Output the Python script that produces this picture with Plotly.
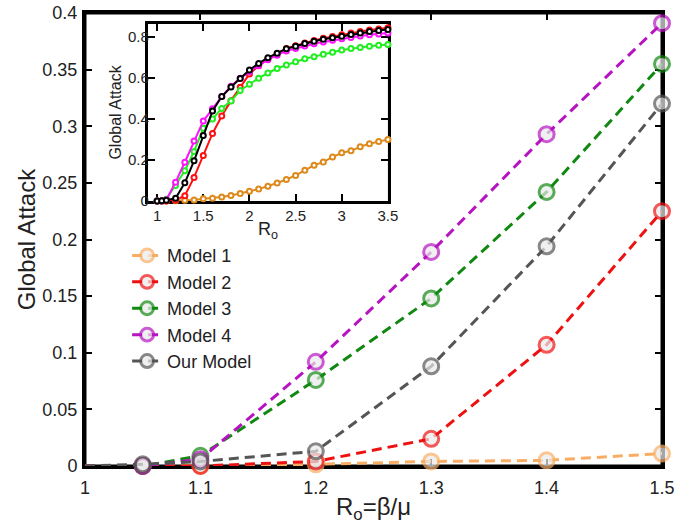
import plotly.graph_objects as go

# ---------------- Main chart data ----------------
r0_main = [1.0, 1.05, 1.1, 1.2, 1.3, 1.4, 1.5]
model1_main = [0.0, 0.0, 0.0, 0.0015, 0.004, 0.005, 0.011]
model2_main = [0.0, 0.0, 0.0, 0.004, 0.024, 0.107, 0.225]
model3_main = [0.0, 0.0, 0.009, 0.076, 0.148, 0.242, 0.355]
model4_main = [0.0, 0.0, 0.006, 0.092, 0.189, 0.293, 0.391]
our_main = [0.0, 0.0015, 0.004, 0.013, 0.088, 0.194, 0.320]

# ---------------- Inset data ----------------
r0_inset = [1.0, 1.05, 1.1, 1.2, 1.3, 1.4, 1.5, 1.6, 1.7, 1.8, 1.9, 2.0, 2.1, 2.2,
            2.3, 2.4, 2.5, 2.6, 2.7, 2.8, 2.9, 3.0, 3.1, 3.2, 3.3, 3.4, 3.5]
model1_inset = [0.0, 0.0, 0.0, 0.0015, 0.004, 0.005, 0.011, 0.014, 0.02, 0.027, 0.036,
                0.048, 0.058, 0.072, 0.088, 0.105, 0.125, 0.15, 0.175, 0.19, 0.215,
                0.235, 0.245, 0.265, 0.28, 0.29, 0.30]
model2_inset = [0.0, 0.0, 0.0, 0.004, 0.026, 0.115, 0.222, 0.33, 0.415, 0.49, 0.555,
                0.62, 0.66, 0.695, 0.72, 0.745, 0.758, 0.772, 0.784, 0.795, 0.803,
                0.812, 0.82, 0.828, 0.835, 0.84, 0.846]
model3_inset = [0.0, 0.0, 0.009, 0.076, 0.148, 0.242, 0.355, 0.40, 0.452, 0.488, 0.54,
                0.57, 0.60, 0.625, 0.647, 0.664, 0.68, 0.695, 0.705, 0.717, 0.726,
                0.737, 0.745, 0.75, 0.756, 0.76, 0.764]
model4_inset = [0.0, 0.0, 0.006, 0.092, 0.189, 0.293, 0.391, 0.45, 0.51, 0.56, 0.60,
                0.632, 0.662, 0.69, 0.712, 0.733, 0.745, 0.757, 0.768, 0.777, 0.785,
                0.792, 0.799, 0.806, 0.812, 0.816, 0.82]
our_inset = [0.0, 0.0015, 0.004, 0.013, 0.089, 0.196, 0.32, 0.44, 0.51, 0.557, 0.598,
             0.64, 0.672, 0.70, 0.722, 0.744, 0.756, 0.769, 0.78, 0.79, 0.797,
             0.805, 0.813, 0.821, 0.828, 0.833, 0.838]

names = ["Model 1", "Model 2", "Model 3", "Model 4", "Our Model"]
main_colors = ["#F9AD63", "#EE1111", "#118811", "#B514C0", "#555555"]
inset_colors = ["#DD8A1C", "#FF1010", "#22EE22", "#FF10FF", "#000000"]

FONT = "Liberation Sans, Arial, Helvetica, sans-serif"

fig = go.Figure()

main_series = [model1_main, model2_main, model3_main, model4_main, our_main]
msizes = [0] + [15] * (len(r0_main) - 1)
for name, ys, col in zip(names, main_series, main_colors):
    fig.add_trace(go.Scatter(
        x=r0_main, y=ys, name=name, mode="lines+markers",
        line=dict(color=col, width=3, dash="10px,6px"),
        marker=dict(size=msizes, color="#EBEBEB", line=dict(color=col, width=3)),
        cliponaxis=False, xaxis="x", yaxis="y",
    ))

inset_series = [model1_inset, model2_inset, model3_inset, model4_inset, our_inset]
for name, ys, col in zip(names, inset_series, inset_colors):
    fig.add_trace(go.Scatter(
        x=r0_inset, y=ys, name=name, mode="lines+markers", showlegend=False,
        line=dict(color=col, width=2),
        marker=dict(size=5, color="white", line=dict(color=col, width=2)),
        cliponaxis=False, xaxis="x2", yaxis="y2",
    ))

axis_common = dict(
    showline=True, linecolor="#000000", linewidth=3, mirror="allticks",
    ticks="inside", ticklen=7, tickwidth=2, tickcolor="#000000",
    showgrid=False, zeroline=False, automargin=False, layer="below traces",
)

fig.update_layout(
    template="none",
    width=683, height=531,
    margin=dict(l=85, r=21, t=13, b=65),
    paper_bgcolor="white", plot_bgcolor="white",
    font=dict(family=FONT, color="#222222"),
    showlegend=True,
    xaxis=dict(
        range=[1, 1.5], tickvals=[1, 1.1, 1.2, 1.3, 1.4, 1.5],
        tickfont=dict(size=18), ticklabelstandoff=3,
        title=dict(text="R<sub>o</sub>=β/μ", font=dict(size=24), standoff=2),
        ticklabeloverflow="allow", **axis_common,
    ),
    yaxis=dict(
        range=[0, 0.4], tickvals=[0, 0.05, 0.1, 0.15, 0.2, 0.25, 0.3, 0.35, 0.4],
        tickfont=dict(size=18), ticklabelstandoff=1,
        title=dict(text="Global Attack", font=dict(size=24), standoff=0),
        ticklabeloverflow="allow", **axis_common,
    ),
    xaxis2=dict(
        domain=[0.109, 0.525], anchor="y2", range=[0.9, 3.5],
        tickvals=[1, 1.5, 2, 2.5, 3, 3.5], tickfont=dict(size=15),
        ticklabelstandoff=-1,
        title=dict(text="R<sub>o</sub>", font=dict(size=18), standoff=0),
        **axis_common,
    ),
    yaxis2=dict(
        domain=[0.585, 0.976], anchor="x2", range=[0, 0.865],
        tickvals=[0, 0.2, 0.4, 0.6, 0.8], tickfont=dict(size=15),
        ticklabelstandoff=-7,
        title=dict(text="Global Attack", font=dict(size=16), standoff=3),
        **axis_common,
    ),
    legend=dict(
        x=0.073, y=0.505, xanchor="left", yanchor="top",
        bgcolor="rgba(0,0,0,0)", font=dict(size=18, color="#222222"),
        tracegroupgap=0, borderwidth=0,
    ),
    shapes=[
        dict(type="rect", xref="x domain", yref="y domain", x0=0, x1=1, y0=0, y1=1,
             line=dict(color="#000000", width=3), layer="below"),
        dict(type="rect", xref="x2 domain", yref="y2 domain", x0=0, x1=1, y0=0, y1=1,
             line=dict(color="#000000", width=3), layer="below"),
    ],
)

fig.write_html(
    "out.html",
    config={"displayModeBar": False},
    post_script="document.body.style.margin='0px';",
)
